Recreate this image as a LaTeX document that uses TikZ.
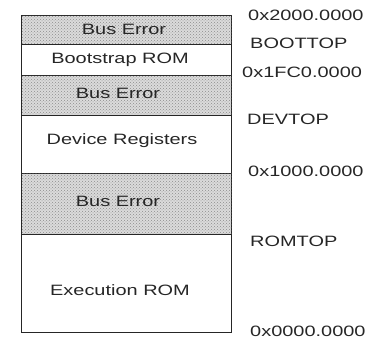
\documentclass[tikz,border=0pt]{standalone}
\usepackage{fontspec}
\usepackage{graphicx}
\setmainfont{Liberation Sans}
\usetikzlibrary{patterns}
\newcommand{\widetext}[1]{\scalebox{1.33}[1]{#1}}
\begin{document}
\begin{tikzpicture}[x=1pt,y=-1pt,
  region/.style={draw=black!85, line width=1.1pt, anchor=north west, inner sep=0pt, minimum width=210pt},
  buserr/.style={region, fill=black!14, postaction={pattern=crosshatch dots, pattern color=black!45}},
  boxtext/.style={inner sep=0pt, font=\fontsize{15}{18}\selectfont, text=black!85},
  addr/.style={inner sep=0pt, anchor=west, font=\fontsize{15}{18}\selectfont, text=black!85}]
\useasboundingbox (0,0) rectangle (373,339);
\node[buserr, minimum height=29pt] (be1) at (21,15) {};
\node[region, minimum height=31pt] (boot) at (21,44) {};
\node[buserr, minimum height=40pt] (be2) at (21,75) {};
\node[region, minimum height=58pt] (dev) at (21,115) {};
\node[buserr, minimum height=61pt] (be3) at (21,173) {};
\node[region, minimum height=98pt] (exe) at (21,234) {};
\node[boxtext] (t1) at (124,29) {\widetext{Bus Error}};
\node[boxtext] (t2) at (120,60) {\widetext{Bootstrap ROM}};
\node[boxtext] (t3) at (118,93) {\widetext{Bus Error}};
\node[boxtext] (t4) at (122,141) {\widetext{Device Registers}};
\node[boxtext] (t5) at (118,201) {\widetext{Bus Error}};
\node[boxtext] (t6) at (120,290) {\widetext{Execution ROM}};
\node[addr] (a1) at (248,15) {\widetext{0x2000.0000}};
\node[addr] (a2) at (250,43) {\widetext{BOOTTOP}};
\node[addr] (a3) at (242,72) {\widetext{0x1FC0.0000}};
\node[addr] (a4) at (247,119) {\widetext{DEVTOP}};
\node[addr] (a5) at (248,171) {\widetext{0x1000.0000}};
\node[addr] (a6) at (250,241) {\widetext{ROMTOP}};
\node[addr] (a7) at (250,331) {\widetext{0x0000.0000}};
\end{tikzpicture}
\end{document}
